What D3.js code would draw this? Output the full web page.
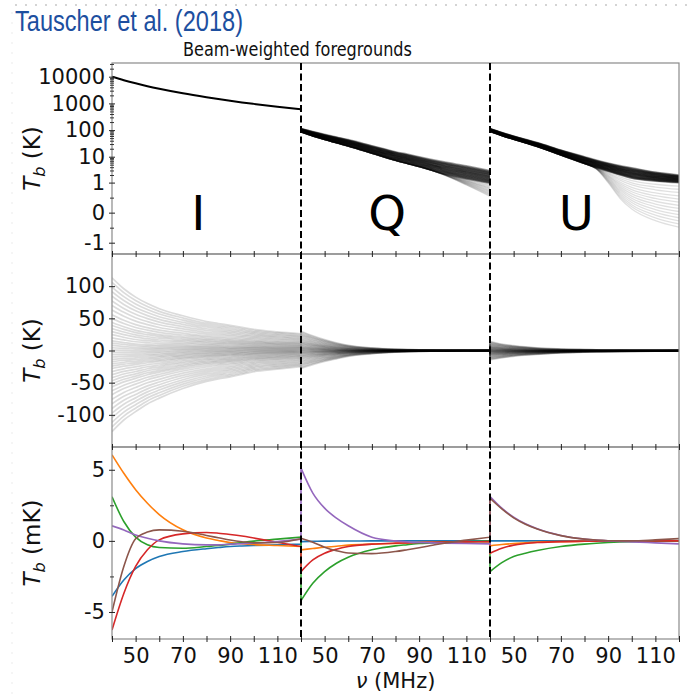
<html>

<head>
    <style>
        body { margin: 0; background: white; }
        svg text { font-family: "DejaVu Sans", sans-serif; fill: #111; }
    </style>
</head>

<body>
    <svg id="chart" width="695" height="696"></svg>
</body>
<script src="https://cdn.jsdelivr.net/npm/d3@7"></script>
<script>
    // frequency grid (MHz), repeated in each of the I / Q / U columns
    let freqs = [40, 45, 50, 55, 60, 70, 80, 85, 90, 95, 100, 110, 120]
    let stokes = ["I", "Q", "U"]
    let freqTicks = [40, 50, 60, 70, 80, 90, 100, 110, 120]
    let freqLabels = [50, 70, 90, 110]

    // top panel, T_b in K (symlog axis)
    let topTicks = [10000, 1000, 100, 10, 1, 0, -1]
    let topI = [10000, 7400, 5650, 4420, 3540, 2390, 1700, 1450, 1250, 1090, 960, 750, 600]
    let topQHigh = [115, 88, 69, 55, 44, 26, 15.5, 12.5, 10, 8, 6.5, 4.5, 3.0]
    let topQLow = [85, 60, 44, 33, 25, 13.5, 7.2, 5.5, 4.2, 3.1, 2.3, 1.4, 0.95]
    let topQTail = [85, 60, 44, 33, 25, 13.5, 7.2, 5.5, 4.2, 3.1, 2.1, 0.8, 0.25]
    let topUHigh = [115, 82, 60, 45, 34, 18, 10, 7.5, 5.8, 4.6, 3.8, 2.6, 2.0]
    let topULow = [90, 62, 45, 33, 24, 11.5, 5.5, 3.9, 2.8, 2.0, 1.5, 1.15, 1.0]
    let topUTail = [90, 62, 45, 33, 24, 11.5, 5.5, 3.4, 1.0, 0.2, 0.03, -0.08, -0.2]

    // middle panel, T_b in K: edges of the fan of foreground curves
    let midTicks = [100, 50, 0, -50, -100]
    let fanILow = [-126, -108, -95, -83, -74, -59, -48, -44, -41, -37, -33, -29, -25]
    let fanIHigh = [113, 96, 83, 73, 65, 54, 45, 42, 39, 36, 33, 29, 26]
    let fanQLow = [-28, -22, -17, -13, -9, -5, -2.7, -2, -1.5, -1.2, -1, -0.7, -0.5]
    let fanQHigh = [30, 23, 17, 12, 8, 4, 2, 1.5, 1.1, 0.9, 0.7, 0.5, 0.4]
    let fanULow = [-14.5, -11.5, -9, -7.3, -6, -3.8, -2.6, -2.2, -2, -1.7, -1.5, -1.1, -0.8]
    let fanUHigh = [14, 10, 7.5, 5.5, 4, 2.3, 1.5, 1.2, 1, 0.9, 0.8, 0.6, 0.5]

    // position of each drawn curve inside its band (0 = low edge, 1 = high edge)
    let wCore = [0, 0.03, 0.07, 0.1, 0.14, 0.17, 0.2, 0.24, 0.27, 0.3, 0.34, 0.37, 0.4, 0.44, 0.47,
        0.5, 0.53, 0.57, 0.6, 0.63, 0.67, 0.7, 0.73, 0.77, 0.8, 0.84, 0.87, 0.9, 0.94, 1]
    let wTail = [0.08, 0.15, 0.22, 0.3, 0.37, 0.44, 0.51, 0.58, 0.65, 0.72, 0.79, 0.86, 0.93, 1]
    let wFan = [0, 0.03, 0.06, 0.09, 0.12, 0.15, 0.18, 0.21, 0.24, 0.265, 0.29, 0.31, 0.33, 0.35, 0.37,
        0.39, 0.41, 0.425, 0.44, 0.455, 0.47, 0.485, 0.5, 0.515, 0.53, 0.545, 0.56, 0.575, 0.59, 0.61,
        0.63, 0.65, 0.67, 0.69, 0.71, 0.735, 0.76, 0.79, 0.82, 0.85, 0.88, 0.91, 0.94, 0.97, 1]

    // bottom panel, T_b in mK: one row per Stokes column
    let botTicks = [5, 0, -5]
    let mkBlue = [
        [-3.9, -2.75, -1.95, -1.45, -1.1, -0.75, -0.55, -0.47, -0.4, -0.36, -0.33, -0.28, -0.23],
        [-0.05, -0.03, -0.02, -0.01, -0.01, 0, 0, 0, 0, 0, 0, 0, 0],
        [0, 0, 0, 0, 0, 0, 0, 0, 0, 0, 0, 0, 0]]
    let mkOrange = [
        [6.05, 4.75, 3.6, 2.65, 1.85, 0.78, 0.2, 0.03, -0.12, -0.2, -0.26, -0.33, -0.4],
        [-0.63, -0.54, -0.45, -0.38, -0.3, -0.23, -0.18, -0.15, -0.12, -0.1, -0.09, -0.07, -0.05],
        [-0.35, -0.26, -0.19, -0.14, -0.09, -0.05, -0.03, -0.02, -0.02, -0.01, -0.01, 0, 0]]
    let mkGreen = [
        [3.1, 1.36, 0.26, -0.28, -0.47, -0.52, -0.4, -0.33, -0.23, -0.12, -0.02, 0.12, 0.26],
        [-4.2, -2.98, -2.16, -1.57, -1.15, -0.63, -0.35, -0.27, -0.19, -0.14, -0.09, -0.05, -0.02],
        [-2.16, -1.53, -1.1, -0.87, -0.68, -0.4, -0.23, -0.17, -0.12, -0.08, -0.05, -0.02, 0]]
    let mkRed = [
        [-6.27, -3.7, -1.8, -0.63, 0.07, 0.49, 0.59, 0.54, 0.45, 0.34, 0.2, -0.1, -0.4],
        [-2.16, -1.34, -0.87, -0.59, -0.4, -0.23, -0.16, -0.14, -0.12, -0.1, -0.09, -0.07, -0.05],
        [-0.87, -0.52, -0.3, -0.19, -0.12, -0.05, -0.03, -0.02, -0.02, -0.01, -0.01, 0, 0]]
    let mkPurple = [
        [1.06, 0.77, 0.42, 0.19, 0, -0.21, -0.28, -0.28, -0.23, -0.2, -0.16, -0.05, 0.12],
        [5.12, 3.36, 2.3, 1.6, 1.06, 0.26, 0, -0.07, -0.12, -0.14, -0.16, -0.19, -0.21],
        [3.12, 2.3, 1.67, 1.2, 0.85, 0.38, 0.12, 0.05, 0, -0.04, -0.07, -0.14, -0.21]]
    let mkBrown = [
        [-5.0, -1.8, 0.15, 0.62, 0.77, 0.68, 0.38, 0.22, 0.06, -0.06, -0.14, -0.12, 0.15],
        [0.19, -0.1, -0.45, -0.7, -0.85, -0.9, -0.75, -0.62, -0.48, -0.33, -0.18, 0.05, 0.26],
        [3.0, 2.25, 1.62, 1.17, 0.83, 0.37, 0.12, 0.05, 0.01, 0, 0, 0.07, 0.16]]
    let mkSeries = [mkBlue, mkOrange, mkGreen, mkRed, mkPurple, mkBrown]
    let mkColors = ["#1f77b4", "#ff7f0e", "#2ca02c", "#d62728", "#9467bd", "#8c564b"]

    let svg = d3.select("#chart")
    let left = 112, right = 679
    let colW = (right - left) / 3
    let panels = [{ top: 63, bottom: 254 }, { top: 254, bottom: 447 }, { top: 447, bottom: 639 }]

    let xCols = stokes.map((s, c) => d3.scaleLinear().domain([40, 120]).range([left + c * colW, left + (c + 1) * colW]))
    let yTop = d3.scaleSymlog().constant(0.081).domain([-1, 10000]).range([242.7, 76.7])
    let yMid = d3.scaleLinear().domain([-150, 150]).range([447, 254])
    let yBot = d3.scaleLinear().domain([-6.9, 6.6]).range([639, 447])

    let line = d3.line().curve(d3.curveMonotoneX)

    // parts: [{col, ys}] with pixel y on the freqs grid; joined into one path
    function pathFor(parts) {
        return parts.map((p, k) => {
            let d = line(freqs.map((f, i) => [xCols[p.col](f), p.ys[i]]))
            return k ? d.replace(/^M/, "L") : d
        }).join("")
    }

    function mix(scale, lo, hi, w) {
        return lo.map((v, i) => scale(v) + w * (scale(hi[i]) - scale(v)))
    }

    // clip paths
    let defs = svg.append("defs")
    panels.forEach((p, k) => {
        defs.append("clipPath").attr("id", "clip" + k)
            .append("rect").attr("x", left).attr("y", p.top).attr("width", right - left).attr("height", p.bottom - p.top)
    })

    // header
    svg.append("line").attr("x1", 15).attr("x2", 695).attr("y1", 5).attr("y2", 5)
        .attr("stroke", "#d4d4d4").attr("stroke-width", 2).attr("stroke-dasharray", "2,8")
    svg.append("line").attr("x1", 12).attr("x2", 12).attr("y1", 12).attr("y2", 696)
        .attr("stroke", "#f2f2f2").attr("stroke-width", 1.5).attr("stroke-dasharray", "2,8")
    svg.append("text").attr("x", 15).attr("y", 31)
        .style("font-family", "'Liberation Sans', Arial, sans-serif").style("fill", "#1d4f9f")
        .attr("font-size", 29).attr("textLength", 228).attr("lengthAdjust", "spacingAndGlyphs")
        .text("Tauscher et al. (2018)")
    svg.append("text").attr("x", 183).attr("y", 56)
        .attr("font-size", 19.5).attr("textLength", 229).attr("lengthAdjust", "spacingAndGlyphs")
        .text("Beam-weighted foregrounds")

    // top panel
    let gTop = svg.append("g").attr("clip-path", "url(#clip0)")
    gTop.append("path").attr("d", pathFor([{ col: 0, ys: topI.map(v => yTop(v)) }]))
        .attr("fill", "none").attr("stroke", "black").attr("stroke-width", 2)
    let bands = [
        { col: 1, lo: topQLow, hi: topQHigh, tail: topQTail },
        { col: 2, lo: topULow, hi: topUHigh, tail: topUTail }]
    bands.forEach(b => {
        wTail.forEach(w => {
            gTop.append("path").attr("d", pathFor([{ col: b.col, ys: mix(yTop, b.lo, b.tail, w) }]))
                .attr("fill", "none").attr("stroke", "black").attr("stroke-opacity", 0.12).attr("stroke-width", 1.3)
        })
        wCore.forEach(w => {
            gTop.append("path").attr("d", pathFor([{ col: b.col, ys: mix(yTop, b.lo, b.hi, w) }]))
                .attr("fill", "none").attr("stroke", "black").attr("stroke-opacity", 0.34).attr("stroke-width", 1.6)
        })
    })

    // middle panel
    let gMid = svg.append("g").attr("clip-path", "url(#clip1)")
    let fans = [[fanILow, fanIHigh], [fanQLow, fanQHigh], [fanULow, fanUHigh]]
    wFan.forEach(w => {
        gMid.append("path")
            .attr("d", pathFor(fans.map((f, c) => ({ col: c, ys: mix(yMid, f[0], f[1], w) }))))
            .attr("fill", "none").attr("stroke", "black").attr("stroke-opacity", 0.14).attr("stroke-width", 1.7)
    })

    // bottom panel
    let gBot = svg.append("g").attr("clip-path", "url(#clip2)")
    mkSeries.forEach((s, k) => {
        gBot.append("path")
            .attr("d", pathFor(s.map((vals, c) => ({ col: c, ys: vals.map(v => yBot(v)) }))))
            .attr("fill", "none").attr("stroke", mkColors[k]).attr("stroke-width", 1.6)
    })

    // frames
    panels.forEach(p => {
        svg.append("rect").attr("x", left).attr("y", p.top).attr("width", right - left).attr("height", p.bottom - p.top)
            .attr("fill", "none").attr("stroke", "#8a8a8a").attr("stroke-width", 1.2)
    })

    // x ticks on every panel, labels on the bottom one
    panels.forEach((p, k) => {
        xCols.forEach(x => {
            let g = svg.append("g").attr("transform", `translate(0,${p.bottom})`)
                .call(d3.axisBottom(x).tickValues(freqTicks).tickSize(3).tickFormat(""))
            g.select(".domain").remove()
            g.selectAll(".tick line").attr("y1", -3).attr("stroke", "#222")
            if (k == 2) {
                let lab = svg.append("g").attr("transform", `translate(0,${p.bottom})`)
                    .call(d3.axisBottom(x).tickValues(freqLabels).tickSize(0).tickPadding(9))
                lab.attr("font-size", 21)
                lab.select(".domain").remove()
            }
        })
    })

    function leftAxis(scale, major, minor) {
        let g = svg.append("g").attr("transform", `translate(${left},0)`)
            .call(d3.axisLeft(scale).tickValues(major).tickSize(3).tickPadding(4).tickFormat(d => d))
        g.attr("font-size", 21)
        g.select(".domain").remove()
        g.selectAll(".tick line").attr("x1", 3).attr("stroke", "#222")
        if (minor.length) {
            let m = svg.append("g").attr("transform", `translate(${left},0)`)
                .call(d3.axisLeft(scale).tickValues(minor).tickSize(2).tickFormat(""))
            m.select(".domain").remove()
            m.selectAll(".tick line").attr("x1", 2).attr("stroke", "#333")
        }
    }

    let topMinor = []
    for (let k = 0; k <= 4; k++) {
        for (let m = 2; m <= 9; m++) {
            let v = m * Math.pow(10, k)
            if (yTop(v) > panels[0].top) topMinor.push(v)
        }
    }
    topMinor.push(yTop.invert((yTop(1) + yTop(0)) / 2), yTop.invert((yTop(0) + yTop(-1)) / 2))
    leftAxis(yTop, topTicks, topMinor)
    leftAxis(yMid, midTicks, [])
    leftAxis(yBot, botTicks, [2.5, -2.5])

    // dashed separators between the Stokes columns
    ;[1, 2].forEach(c => {
        svg.append("line").attr("x1", xCols[c](40)).attr("x2", xCols[c](40))
            .attr("y1", panels[0].top).attr("y2", panels[2].bottom)
            .attr("stroke", "black").attr("stroke-width", 2).attr("stroke-dasharray", "7,3.5")
    })

    // Stokes letters
    stokes.forEach((s, c) => {
        svg.append("text").attr("x", xCols[c](76.5)).attr("y", 230).attr("text-anchor", "middle")
            .attr("font-size", 48).style("fill", "black").text(s)
    })

    // axis titles
    function yTitle(cy, unit) {
        let t = svg.append("text").attr("transform", `translate(40,${cy}) rotate(-90)`)
            .attr("text-anchor", "middle").attr("font-size", 23)
        t.append("tspan").attr("font-style", "italic").text("T")
        t.append("tspan").attr("font-style", "italic").attr("font-size", 16).attr("dy", 5).text("b")
        t.append("tspan").attr("dy", -5).text(" (" + unit + ")")
    }
    panels.forEach((p, k) => yTitle((p.top + p.bottom) / 2, k == 2 ? "mK" : "K"))

    let xl = svg.append("text").attr("x", (left + right) / 2).attr("y", 688)
        .attr("text-anchor", "middle").attr("font-size", 21)
    xl.append("tspan").attr("font-style", "italic").text("ν")
    xl.append("tspan").text(" (MHz)")
</script>

</html>
